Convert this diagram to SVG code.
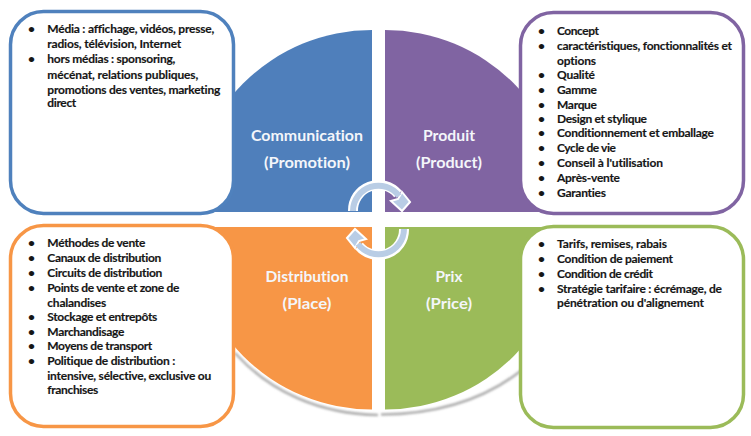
<svg xmlns="http://www.w3.org/2000/svg" width="751" height="436" viewBox="0 0 751 436">
<style>
text{font-family:"Lato","Open Sans","Liberation Sans",sans-serif;font-weight:700;font-variant-ligatures:none}
.t{font-size:12px;fill:#161616;stroke:#161616;stroke-width:.15}
.h{font-size:15.5px;fill:#f4f6fa;text-anchor:middle}
.box{fill:#fff;stroke-width:3.5}
.sh{fill:none;stroke:#9a9a9a;stroke-width:2.5;filter:url(#b)}
.arc{fill:none;stroke:#fff;stroke-width:10}
.arc2{fill:none;stroke:#b9cde5;stroke-width:6}
.hd{fill:#b9cde5;stroke:#fff;stroke-width:2;stroke-linejoin:miter}
</style>
<defs><filter id="b" x="-10%" y="-10%" width="120%" height="120%"><feGaussianBlur stdDeviation="0.8"/></filter></defs>
<rect width="751" height="436" fill="#fff"/>
<g id="shadows">
<path class="sh" d="M380 34V214" stroke-opacity=".22"/>
<path class="sh" d="M380 216H573" stroke-opacity=".75"/>
<path class="sh" d="M380 228V412" stroke-opacity=".22"/>
<path class="sh" d="M381 414.500C470 414 525 378 560 330" stroke-opacity=".8"/>
<path class="sh" d="M235 353C270 392 320 414 378 415" stroke-opacity=".8"/>
</g>
<g id="quadrant-communication">
<path d="M372 30A182 182 0 0 0 190 212H372Z" fill="#4f7fbb"/>
<text class="h" x="307" y="141" textLength="112" lengthAdjust="spacingAndGlyphs">Communication</text>
<text class="h" x="307" y="168" textLength="86" lengthAdjust="spacingAndGlyphs">(Promotion)</text>
</g>
<g id="quadrant-produit">
<path d="M385 30A182 182 0 0 1 567 212H385Z" fill="#8064a2"/>
<text class="h" x="449" y="141" textLength="52" lengthAdjust="spacingAndGlyphs">Produit</text>
<text class="h" x="449" y="168" textLength="66" lengthAdjust="spacingAndGlyphs">(Product)</text>
</g>
<g id="quadrant-distribution">
<path d="M372 227V409.500A182 182 0 0 1 190 227Z" fill="#f79646"/>
<text class="h" x="307" y="282" textLength="83" lengthAdjust="spacingAndGlyphs">Distribution</text>
<text class="h" x="307" y="309" textLength="49" lengthAdjust="spacingAndGlyphs">(Place)</text>
</g>
<g id="quadrant-prix">
<path d="M385 227V409.500A182 182 0 0 0 567 227Z" fill="#9bbb59"/>
<text class="h" x="449" y="282" textLength="27" lengthAdjust="spacingAndGlyphs">Prix</text>
<text class="h" x="449" y="309" textLength="46" lengthAdjust="spacingAndGlyphs">(Price)</text>
</g>
<g id="box-communication">
<rect class="box" x="10.500" y="11.500" width="223" height="202" rx="33" stroke="#4f81bd"/>
<text class="t" x="28" y="33.300">•</text><text class="t" x="47.300" y="33.300" textLength="167">Média : affichage, vidéos, presse,</text>
<text class="t" x="47.300" y="48.300" textLength="134">radios, télévision, Internet</text>
<text class="t" x="28" y="63.300">•</text><text class="t" x="47.300" y="63.300" textLength="128">hors médias : sponsoring,</text>
<text class="t" x="47.300" y="78.500" textLength="151">mécénat, relations publiques,</text>
<text class="t" x="47.300" y="93.500" textLength="173">promotions des ventes, marketing</text>
<text class="t" x="47.300" y="107" textLength="29">direct</text>
</g>
<g id="box-produit">
<rect class="box" x="520.500" y="12.500" width="223" height="201" rx="33" stroke="#8064a2"/>
<text class="t" x="538" y="35">•</text><text class="t" x="557" y="35" textLength="42">Concept</text>
<text class="t" x="538" y="50">•</text><text class="t" x="557" y="50" textLength="175">caractéristiques, fonctionnalités et</text>
<text class="t" x="557" y="64.500" textLength="39">options</text>
<text class="t" x="538" y="79">•</text><text class="t" x="557" y="79" textLength="38">Qualité</text>
<text class="t" x="538" y="93.700">•</text><text class="t" x="557" y="93.700" textLength="40">Gamme</text>
<text class="t" x="538" y="108.500">•</text><text class="t" x="557" y="108.500" textLength="40">Marque</text>
<text class="t" x="538" y="122.700">•</text><text class="t" x="557" y="122.700" textLength="90">Design et stylique</text>
<text class="t" x="538" y="137.300">•</text><text class="t" x="557" y="137.300" textLength="157">Conditionnement et emballage</text>
<text class="t" x="538" y="152">•</text><text class="t" x="557" y="152" textLength="59">Cycle de vie</text>
<text class="t" x="538" y="167">•</text><text class="t" x="557" y="167" textLength="106">Conseil à l'utilisation</text>
<text class="t" x="538" y="182">•</text><text class="t" x="557" y="182" textLength="63">Après-vente</text>
<text class="t" x="538" y="196.700">•</text><text class="t" x="557" y="196.700" textLength="49">Garanties</text>
</g>
<g id="box-distribution">
<rect class="box" x="10.500" y="225.500" width="223" height="201" rx="33" stroke="#f79646"/>
<text class="t" x="28" y="247.300">•</text><text class="t" x="47.300" y="247.300" textLength="98">Méthodes de vente</text>
<text class="t" x="28" y="262">•</text><text class="t" x="47.300" y="262" textLength="114">Canaux de distribution</text>
<text class="t" x="28" y="276.700">•</text><text class="t" x="47.300" y="276.700" textLength="115">Circuits de distribution</text>
<text class="t" x="28" y="291.700">•</text><text class="t" x="47.300" y="291.700" textLength="132">Points de vente et zone de</text>
<text class="t" x="47.300" y="306.700" textLength="59">chalandises</text>
<text class="t" x="28" y="321">•</text><text class="t" x="47.300" y="321" textLength="110">Stockage et entrepôts</text>
<text class="t" x="28" y="335.700">•</text><text class="t" x="47.300" y="335.700" textLength="77">Marchandisage</text>
<text class="t" x="28" y="350">•</text><text class="t" x="47.300" y="350" textLength="105">Moyens de transport</text>
<text class="t" x="28" y="365">•</text><text class="t" x="47.300" y="365" textLength="128">Politique de distribution :</text>
<text class="t" x="47.300" y="380" textLength="164">intensive, sélective, exclusive ou</text>
<text class="t" x="47.300" y="394.300" textLength="51">franchises</text>
</g>
<g id="box-prix">
<rect class="box" x="520.500" y="226.500" width="223" height="201" rx="33" stroke="#9bbb59"/>
<text class="t" x="538" y="248">•</text><text class="t" x="557" y="248" textLength="110">Tarifs, remises, rabais</text>
<text class="t" x="538" y="263">•</text><text class="t" x="557" y="263" textLength="116">Condition de paiement</text>
<text class="t" x="538" y="277.700">•</text><text class="t" x="557" y="277.700" textLength="96">Condition de crédit</text>
<text class="t" x="538" y="293">•</text><text class="t" x="557" y="293" textLength="165">Stratégie tarifaire : écrémage, de</text>
<text class="t" x="557" y="307.300" textLength="147">pénétration ou d'alignement</text>
</g>
<g id="connectors">
<path class="arc" d="M353 211A25.500 25.500 0 0 1 398 194"/>
<polygon class="hd" points="410,202 402,211 391,201 398,199 402,192"/>
<path class="arc2" d="M353 211A25.500 25.500 0 0 1 399 196"/>
<path class="arc" d="M404 229A25.500 25.500 0 0 1 359 246"/>
<polygon class="hd" points="347,238 355,229 366,239 359,241 355,248"/>
<path class="arc2" d="M404 229A25.500 25.500 0 0 1 358 244"/>
</g>
</svg>
